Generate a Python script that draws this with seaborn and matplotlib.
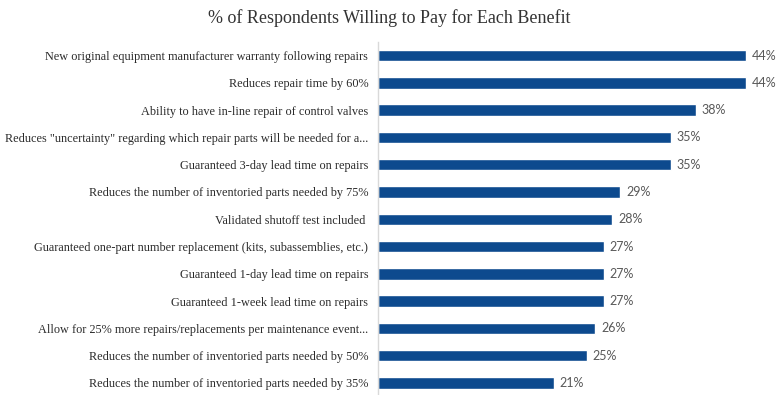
import matplotlib
matplotlib.use("Agg")
import matplotlib.pyplot as plt
import seaborn as sns
import pandas as pd

benefits = [
    "New original equipment manufacturer warranty following repairs",
    "Reduces repair time by 60%",
    "Ability to have in-line repair of control valves",
    "Reduces \"uncertainty\" regarding which repair parts will be needed for a...",
    "Guaranteed 3-day lead time on repairs",
    "Reduces the number of inventoried parts needed by 75%",
    "Validated shutoff test included ",
    "Guaranteed one-part number replacement (kits, subassemblies, etc.)",
    "Guaranteed 1-day lead time on repairs",
    "Guaranteed 1-week lead time on repairs",
    "Allow for 25% more repairs/replacements per maintenance event...",
    "Reduces the number of inventoried parts needed by 50%",
    "Reduces the number of inventoried parts needed by 35%",
]
willing_pct = [44, 44, 38, 35, 35, 29, 28, 27, 27, 27, 26, 25, 21]

df = pd.DataFrame({"benefit": benefits, "pct": willing_pct})

sns.set_theme(style="white")
plt.rcParams["font.family"] = ["Liberation Serif", "DejaVu Serif"]

fig = plt.figure(figsize=(7.79, 3.95), dpi=100)
ax = fig.add_axes([378 / 779, 0.0, 393 / 779, 0.894])

bar_color = "#0D4A8E"
sns.barplot(data=df, x="pct", y="benefit", orient="h", color=bar_color,
            width=0.42, saturation=1, ax=ax)

ax.set_xlim(0, 47)
ax.set_ylim(12.44, -0.5)
ax.set_xlabel("")
ax.set_ylabel("")
ax.set_xticks([])
ax.tick_params(axis="y", length=0, pad=7, labelsize=8.85, labelcolor="#2B2B2B")
for lbl in ax.get_yticklabels():
    lbl.set_fontfamily(["Liberation Serif", "DejaVu Serif"])

for s in ["top", "right", "bottom"]:
    ax.spines[s].set_visible(False)
ax.spines["left"].set_color("#D9D9D9")
ax.spines["left"].set_linewidth(1.0)

for i, v in enumerate(willing_pct):
    ax.text(v + 0.7, i, f"{v}%", va="center", ha="left", fontsize=9,
            color="#595959", family=["Lato", "DejaVu Sans"])

fig.text(0.5, 0.955, "% of Respondents Willing to Pay for Each Benefit",
         ha="center", va="center", fontsize=13, color="#333333",
         family=["Liberation Serif", "DejaVu Serif"])

fig.savefig("out.png", dpi=100)
